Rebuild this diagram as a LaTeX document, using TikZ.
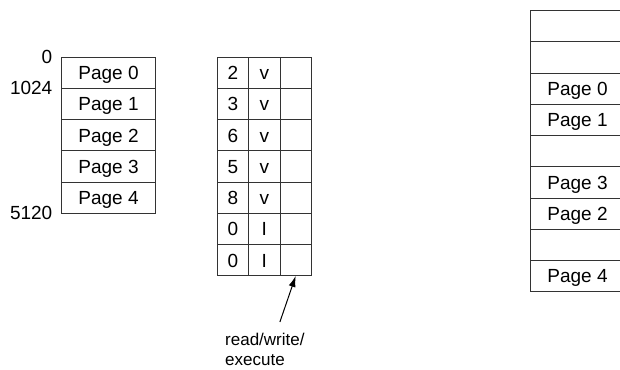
\documentclass[tikz,border=0pt]{standalone}
\usepackage{fontspec}
\setmainfont{Liberation Sans}
\usetikzlibrary{matrix, arrows.meta, positioning}

\tikzset{
  cell/.style = {draw=black!80, line width=1pt, inner sep=0pt, outer sep=0pt,
                 minimum height=31.25pt, text height=13.5pt, text depth=0pt},
  memcol/.style = {matrix of nodes, nodes in empty cells, inner sep=0pt, outer sep=0pt,
                   row sep=-1pt, column sep=-1pt, anchor=north west},
  addr/.style = {anchor=east, inner sep=0pt}
}

\begin{document}
\begin{tikzpicture}[x=1pt, y=-1pt, font=\fontsize{19}{22}\selectfont]
\useasboundingbox (0,0) rectangle (620,369);
\clip (0,0) rectangle (620,369);

% virtual memory
\matrix (vm) [memcol, nodes={cell, minimum width=94pt}] at (61,56.7) {
Page 0 \\
Page 1 \\
Page 2 \\
Page 3 \\
Page 4 \\
};
\node[addr] (a0) at ([xshift=-9pt]vm-1-1.north west) {0};
\node[addr] (a1) at ([xshift=-9pt]vm-2-1.north west) {1024};
\node[addr] (a5) at ([xshift=-9pt]vm-5-1.south west) {5120};

% page table
\matrix (tb) [memcol, nodes={cell, minimum width=31.4pt}] at (216.7,56.7) {
2 & v & \\
3 & v & \\
6 & v & \\
5 & v & \\
8 & v & \\
0 & I & \\
0 & I & \\
};

% physical memory
\matrix (pm) [memcol, nodes={cell, minimum width=94pt}] at (530,10) {
\\
\\
Page 0 \\
Page 1 \\
\\
Page 3 \\
Page 2 \\
\\
Page 4 \\
};

\node[align=left, anchor=north west, inner sep=0pt,
      font=\fontsize{17}{19.5}\selectfont] (rwx) at (225,333) {read/write/\\execute};
\draw[-{Latex[length=11pt, width=7pt]}, line width=1pt]
  ([xshift=15pt, yshift=11pt]rwx.north) -- (tb-7-3.south);
\end{tikzpicture}
\end{document}
